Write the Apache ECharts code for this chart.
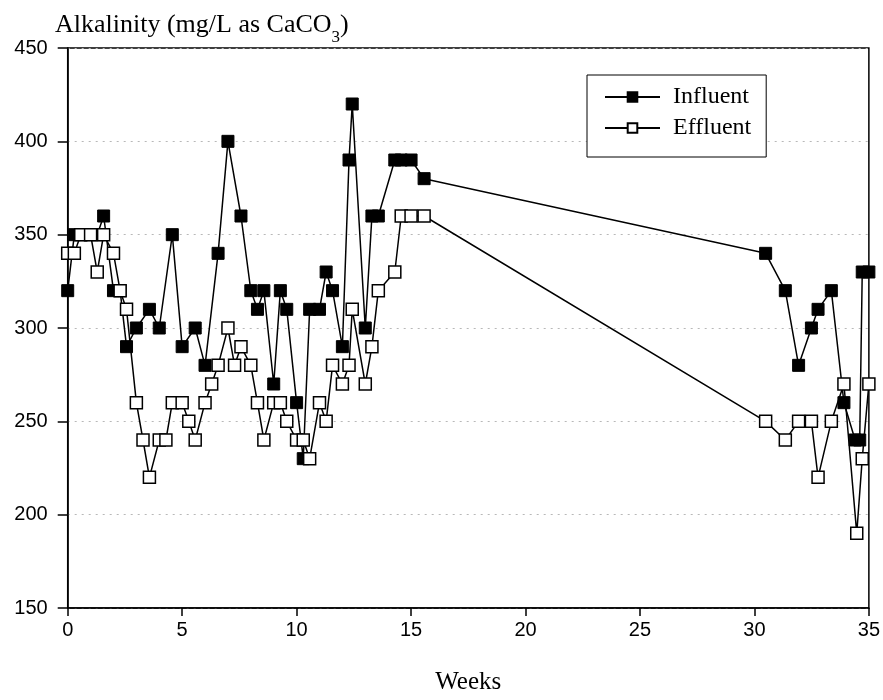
<!DOCTYPE html>
<html>
<head>
<meta charset="utf-8">
<script src="https://cdn.jsdelivr.net/npm/echarts@6/dist/echarts.min.js"></script>
<style>
html,body{margin:0;padding:0;background:#fff;}
#chart{width:883px;height:700px;}
</style>
</head>
<body>
<div id="chart"></div>
<script>
// ---- data ----
const influentWeeks = [0, 0.29, 0.57, 1.0, 1.29, 1.57, 2.0, 2.29, 2.57, 3.0, 3.57, 4.0, 4.57, 5.0, 5.57, 6.0, 6.57, 7.0, 7.57, 8.0, 8.29, 8.57, 9.0, 9.29, 9.57, 10.0, 10.29, 10.57, 11.0, 11.29, 11.57, 12.0, 12.29, 12.43, 13.0, 13.29, 13.57, 14.29, 14.57, 15.0, 15.57, 30.49, 31.35, 31.93, 32.49, 32.78, 33.36, 33.91, 34.4, 34.6, 34.71, 35.0];
const influentValues = [320, 350, 350, 350, 350, 360, 320, 320, 290, 300, 310, 300, 350, 290, 300, 280, 340, 400, 360, 320, 310, 320, 270, 320, 310, 260, 230, 310, 310, 330, 320, 290, 390, 420, 300, 360, 360, 390, 390, 390, 380, 340, 320, 280, 300, 310, 320, 260, 240, 240, 330, 330];
const effluentWeeks = [0, 0.29, 0.57, 1.0, 1.29, 1.57, 2.0, 2.29, 2.57, 3.0, 3.29, 3.57, 4.0, 4.29, 4.57, 5.0, 5.29, 5.57, 6.0, 6.29, 6.57, 7.0, 7.29, 7.57, 8.0, 8.29, 8.57, 9.0, 9.29, 9.57, 10.0, 10.29, 10.57, 11.0, 11.29, 11.57, 12.0, 12.29, 12.43, 13.0, 13.29, 13.57, 14.29, 14.57, 15.0, 15.57, 30.49, 31.35, 31.93, 32.49, 32.78, 33.36, 33.91, 34.47, 34.71, 35.0];
const effluentValues = [340, 340, 350, 350, 330, 350, 340, 320, 310, 260, 240, 220, 240, 240, 260, 260, 250, 240, 260, 270, 280, 300, 280, 290, 280, 260, 240, 260, 260, 250, 240, 240, 230, 260, 250, 280, 270, 280, 310, 270, 290, 320, 330, 360, 360, 360, 250, 240, 250, 250, 220, 250, 270, 190, 230, 270];
const seriesNames = ['Influent', 'Effluent'];
const yTitle = 'Alkalinity (mg/L as CaCO';
const ySub = '3';
const xTitle = 'Weeks';

const chart = echarts.init(document.getElementById('chart'), null, {renderer: 'canvas'});
const pair = (xs, ys) => xs.map((x, i) => [x, ys[i]]);

const option = {
  animation: false,
  backgroundColor: '#fff',
  grid: {
    left: 67.7, right: 13.7, top: 48, bottom: 86,
    show: true, borderColor: '#000', borderWidth: 1.5, backgroundColor: 'transparent'
  },
  graphic: [{
    type: 'text',
    left: 55, top: 12,
    style: {
      text: '{a|' + yTitle + '}{s|' + ySub + '}{a|)}',
      rich: {
        a: {fontFamily: 'Liberation Serif', fontSize: 26, fill: '#000', verticalAlign: 'bottom', lineHeight: 30},
        s: {fontFamily: 'Liberation Serif', fontSize: 17, fill: '#000', verticalAlign: 'bottom', lineHeight: 30, padding: [0, 0, -8, 0]}
      }
    }
  }],
  legend: {
    data: seriesNames,
    orient: 'vertical',
    left: 587, top: 75,
    padding: [9, 15, 16, 17],
    itemGap: 5,
    itemWidth: 55, itemHeight: 12,
    backgroundColor: '#fff',
    borderColor: '#000', borderWidth: 1,
    textStyle: {fontFamily: 'Liberation Serif', fontSize: 24, color: '#000', lineHeight: 26, padding: [0, 0, 0, 8]}
  },
  xAxis: {
    type: 'value', min: 0, max: 35, interval: 5,
    name: xTitle, nameLocation: 'middle', nameGap: 62,
    nameTextStyle: {fontFamily: 'Liberation Serif', fontSize: 25, color: '#000'},
    axisLine: {show: true, onZero: false, lineStyle: {color: '#000', width: 1.5}},
    axisTick: {show: true, inside: false, length: 8, lineStyle: {color: '#000', width: 1.5}},
    axisLabel: {fontFamily: 'Liberation Sans', fontSize: 20, color: '#000', margin: 12},
    splitLine: {show: false}
  },
  yAxis: {
    type: 'value', min: 150, max: 450, interval: 50,
    axisLine: {show: true, lineStyle: {color: '#000', width: 1.5}},
    axisTick: {show: true, inside: false, length: 10, lineStyle: {color: '#000', width: 1.5}},
    axisLabel: {fontFamily: 'Liberation Sans', fontSize: 20, color: '#000', margin: 20},
    splitLine: {show: true, lineStyle: {color: '#b8b8b8', width: 1, type: [2, 5]}}
  },
  series: [
    {
      name: seriesNames[0], type: 'line',
      data: pair(influentWeeks, influentValues),
      symbol: 'rect', symbolSize: 12,
      lineStyle: {color: '#000', width: 1.5},
      itemStyle: {color: '#000', borderColor: '#000', borderWidth: 1},
      z: 2
    },
    {
      name: seriesNames[1], type: 'line',
      data: pair(effluentWeeks, effluentValues),
      symbol: 'rect', symbolSize: 12,
      lineStyle: {color: '#000', width: 1.5},
      itemStyle: {color: '#fff', borderColor: '#000', borderWidth: 1.5},
      z: 3
    }
  ]
};
chart.setOption(option);
</script>
</body>
</html>
